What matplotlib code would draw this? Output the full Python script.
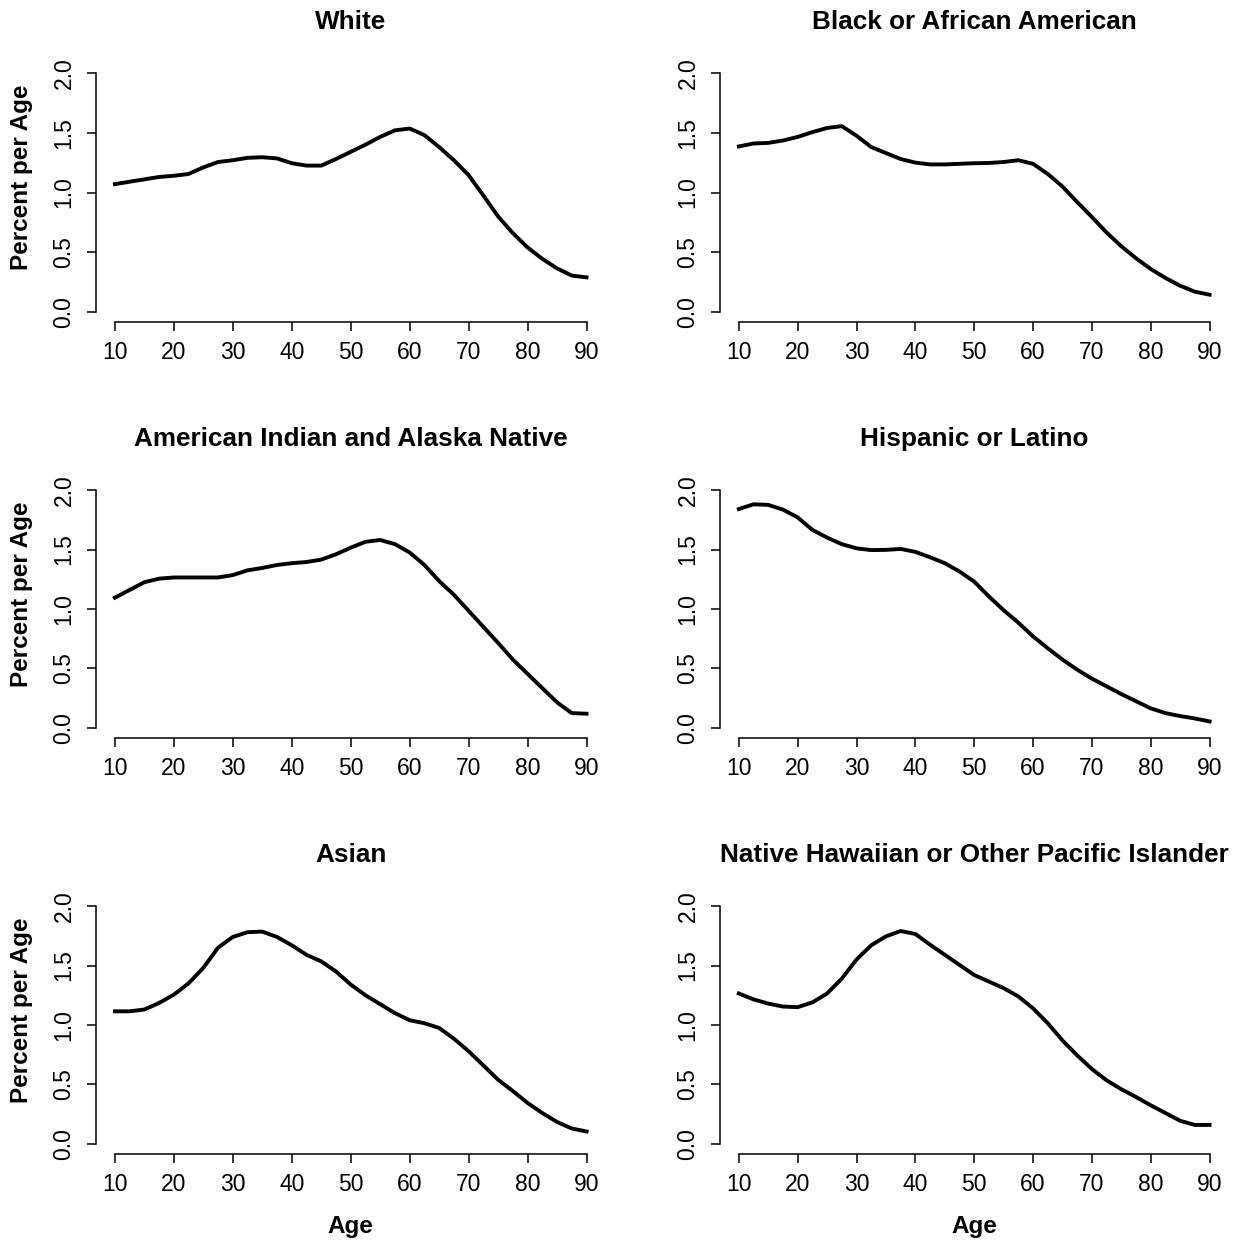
import matplotlib
matplotlib.use('Agg')
import matplotlib.pyplot as plt
import numpy as np

plt.rcParams['font.family'] = ['Liberation Sans', 'DejaVu Sans']

# ages on a 2.5 year grid (percent per age)
ages = np.arange(10, 90.1, 2.5)

white = [1.07, 1.09, 1.11, 1.13, 1.14, 1.155, 1.21, 1.255, 1.27, 1.29, 1.295,
         1.285, 1.245, 1.225, 1.225, 1.28, 1.34, 1.40, 1.465, 1.52, 1.535,
         1.48, 1.38, 1.27, 1.145, 0.975, 0.80, 0.66, 0.54, 0.445, 0.365,
         0.305, 0.29]
black = [1.385, 1.41, 1.415, 1.435, 1.465, 1.505, 1.54, 1.555, 1.475, 1.38,
         1.33, 1.28, 1.25, 1.235, 1.235, 1.24, 1.245, 1.247, 1.255, 1.27,
         1.24, 1.155, 1.05, 0.92, 0.795, 0.665, 0.55, 0.45, 0.36, 0.285,
         0.22, 0.17, 0.145]
aian = [1.095, 1.16, 1.225, 1.255, 1.265, 1.265, 1.265, 1.265, 1.285, 1.325,
        1.345, 1.37, 1.385, 1.395, 1.415, 1.46, 1.515, 1.565, 1.58, 1.545,
        1.475, 1.37, 1.235, 1.12, 0.985, 0.85, 0.715, 0.575, 0.455, 0.335,
        0.215, 0.125, 0.12]
hispanic = [1.84, 1.88, 1.875, 1.835, 1.77, 1.665, 1.60, 1.545, 1.51, 1.495,
            1.497, 1.505, 1.48, 1.435, 1.385, 1.315, 1.23, 1.105, 0.99, 0.885,
            0.77, 0.67, 0.575, 0.49, 0.415, 0.35, 0.285, 0.225, 0.165, 0.125,
            0.10, 0.08, 0.055]
asian = [1.115, 1.115, 1.13, 1.185, 1.255, 1.35, 1.48, 1.65, 1.74, 1.78,
         1.785, 1.74, 1.67, 1.59, 1.535, 1.45, 1.34, 1.25, 1.175, 1.10, 1.04,
         1.015, 0.975, 0.885, 0.78, 0.66, 0.54, 0.445, 0.345, 0.26, 0.185,
         0.13, 0.105]
nhpi = [1.265, 1.215, 1.18, 1.155, 1.15, 1.19, 1.265, 1.39, 1.55, 1.67,
        1.745, 1.79, 1.765, 1.675, 1.59, 1.505, 1.42, 1.365, 1.31, 1.24,
        1.14, 1.015, 0.87, 0.745, 0.63, 0.535, 0.46, 0.395, 0.325, 0.26,
        0.195, 0.16, 0.16]

titles = ['White', 'Black or African American',
          'American Indian and Alaska Native', 'Hispanic or Latino',
          'Asian', 'Native Hawaiian or Other Pacific Islander']
series = [white, black, aian, hispanic, asian, nhpi]

x_ticks = [10, 20, 30, 40, 50, 60, 70, 80, 90]
y_ticks = [0.0, 0.5, 1.0, 1.5, 2.0]
y_tick_labels = ['0.0', '0.5', '1.0', '1.5', '2.0']

W, H = 1239, 1243
fig = plt.figure(figsize=(W / 100, H / 100), dpi=100)

# plot regions in pixels: (left, right) and (top, bottom)
cols = [(96, 605.4), (720, 1228.4)]
rows = [(63.4, 321.6), (480.5, 737.5), (896.5, 1153.5)]

for i, (title, y) in enumerate(zip(titles, series)):
    r, c = divmod(i, 2)
    x0, x1 = cols[c]
    top, bot = rows[r]
    h = bot - top
    ax = fig.add_axes([x0 / W, 1 - bot / H, (x1 - x0) / W, h / H])
    ax.plot(ages, y, color='black', lw=2.8, solid_joinstyle='round')
    ax.set_xlim(6.8, 93.2)
    ax.set_ylim(-0.08, 2.08)

    for s in ['top', 'right']:
        ax.spines[s].set_visible(False)
    ax.spines['left'].set_bounds(0, 2)
    ax.spines['bottom'].set_bounds(10, 90)
    for s in ['left', 'bottom']:
        ax.spines[s].set_linewidth(1.1)

    ax.set_xticks(x_ticks)
    ax.set_yticks(y_ticks)
    ax.set_yticklabels(y_tick_labels, rotation=90, va='center')
    ax.tick_params(axis='both', length=6.8, width=1.1, labelsize=16.5,
                   colors='black')
    ax.tick_params(axis='x', pad=7.5)
    ax.tick_params(axis='y', pad=8)

    ax.annotate(title, xy=(0.5, 1), xycoords='axes fraction',
                xytext=(0, 30), textcoords='offset points',
                ha='center', va='center', fontsize=18.8, fontweight='bold')

    if c == 0:
        ax.set_ylabel('Percent per Age', fontsize=17.5, fontweight='bold',
                      va='center')
        ax.yaxis.set_label_coords((22 - x0) / (x1 - x0), 1 - 113.6 / h)
    if r == 2:
        ax.set_xlabel('Age', fontsize=17.5, fontweight='bold', va='center')
        ax.xaxis.set_label_coords(0.5, -(1227 - bot) / h)

fig.savefig('out.png', dpi=100)
